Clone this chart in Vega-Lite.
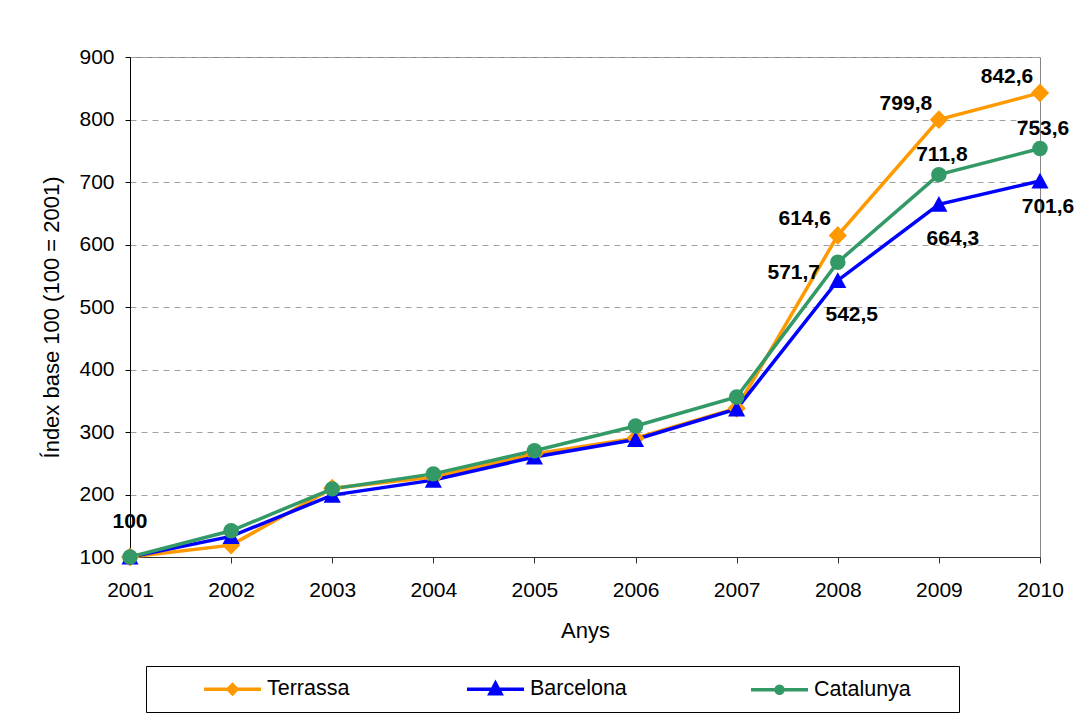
{
  "$schema": "https://vega.github.io/schema/vega-lite/v6.json",
  "width": 910,
  "height": 500,
  "autosize": "none",
  "padding": {"left": 130, "top": 57, "right": 35, "bottom": 161},
  "background": "white",
  "config": {
    "font": "Liberation Sans",
    "view": {"stroke": "#868686", "strokeWidth": 1},
    "legend": {"labelLimit": 400}
  },
  "data": {
    "values": [
      {"any": "2001", "serie": "Terrassa", "valor": 100, "etiqueta": ""},
      {"any": "2002", "serie": "Terrassa", "valor": 119, "etiqueta": ""},
      {"any": "2003", "serie": "Terrassa", "valor": 210, "etiqueta": ""},
      {"any": "2004", "serie": "Terrassa", "valor": 228, "etiqueta": ""},
      {"any": "2005", "serie": "Terrassa", "valor": 265, "etiqueta": ""},
      {"any": "2006", "serie": "Terrassa", "valor": 290, "etiqueta": ""},
      {"any": "2007", "serie": "Terrassa", "valor": 338, "etiqueta": ""},
      {"any": "2008", "serie": "Terrassa", "valor": 614.6, "etiqueta": "614,6"},
      {"any": "2009", "serie": "Terrassa", "valor": 799.8, "etiqueta": "799,8"},
      {"any": "2010", "serie": "Terrassa", "valor": 842.6, "etiqueta": "842,6"},
      {"any": "2001", "serie": "Barcelona", "valor": 100, "etiqueta": ""},
      {"any": "2002", "serie": "Barcelona", "valor": 133, "etiqueta": ""},
      {"any": "2003", "serie": "Barcelona", "valor": 199, "etiqueta": ""},
      {"any": "2004", "serie": "Barcelona", "valor": 223, "etiqueta": ""},
      {"any": "2005", "serie": "Barcelona", "valor": 260, "etiqueta": ""},
      {"any": "2006", "serie": "Barcelona", "valor": 288, "etiqueta": ""},
      {"any": "2007", "serie": "Barcelona", "valor": 337, "etiqueta": ""},
      {"any": "2008", "serie": "Barcelona", "valor": 542.5, "etiqueta": "542,5"},
      {"any": "2009", "serie": "Barcelona", "valor": 664.3, "etiqueta": "664,3"},
      {"any": "2010", "serie": "Barcelona", "valor": 701.6, "etiqueta": "701,6"},
      {"any": "2001", "serie": "Catalunya", "valor": 100, "etiqueta": "100"},
      {"any": "2002", "serie": "Catalunya", "valor": 142, "etiqueta": ""},
      {"any": "2003", "serie": "Catalunya", "valor": 209, "etiqueta": ""},
      {"any": "2004", "serie": "Catalunya", "valor": 233, "etiqueta": ""},
      {"any": "2005", "serie": "Catalunya", "valor": 270, "etiqueta": ""},
      {"any": "2006", "serie": "Catalunya", "valor": 309.6, "etiqueta": ""},
      {"any": "2007", "serie": "Catalunya", "valor": 356, "etiqueta": ""},
      {"any": "2008", "serie": "Catalunya", "valor": 571.7, "etiqueta": "571,7"},
      {"any": "2009", "serie": "Catalunya", "valor": 711.8, "etiqueta": "711,8"},
      {"any": "2010", "serie": "Catalunya", "valor": 753.6, "etiqueta": "753,6"}
    ]
  },
  "encoding": {
    "x": {
      "field": "any",
      "type": "ordinal",
      "sort": null,
      "scale": {"type": "point", "padding": 0},
      "title": "Anys",
      "axis": {
        "labelAngle": 0,
        "tickSize": 6,
        "tickColor": "#333333",
        "domainColor": "#333333",
        "labelFontSize": 21,
        "labelColor": "black",
        "labelPadding": 16,
        "titleFontSize": 22,
        "titleFontWeight": "normal",
        "titleColor": "black",
        "titlePadding": 20,
        "grid": false
      }
    },
    "y": {
      "field": "valor",
      "type": "quantitative",
      "scale": {"domain": [100, 900], "nice": false, "zero": false},
      "title": "Índex base 100 (100 = 2001)",
      "axis": {
        "values": [100, 200, 300, 400, 500, 600, 700, 800, 900],
        "tickSize": 5,
        "tickColor": "black",
        "domainColor": "black",
        "labelFontSize": 21,
        "labelColor": "black",
        "labelPadding": 11,
        "grid": true,
        "gridDash": [6, 5],
        "gridColor": "#a0a0a0",
        "titleFontSize": 22,
        "titleFontWeight": "normal",
        "titleColor": "black",
        "titleX": -67,
        "titleY": 260
      }
    }
  },
  "layer": [
    {
      "mark": {"type": "line", "strokeWidth": 3.5},
      "encoding": {
        "color": {
          "field": "serie",
          "type": "nominal",
          "sort": null,
          "scale": {"domain": ["Terrassa", "Barcelona", "Catalunya"], "range": ["#FF9900", "#0000FF", "#339966"]},
          "legend": {
            "orient": "none",
            "legendX": 16,
            "legendY": 609,
            "direction": "horizontal",
            "columns": 3,
            "gridAlign": "each",
            "columnPadding": 70,
            "padding": 11,
            "title": null,
            "strokeColor": "black",
            "fillColor": "white",
            "labelFont": "Liberation Sans",
            "labelFontSize": 21.5,
            "labelColor": "black",
            "labelOffset": 86,
            "symbolSize": 400,
            "symbolStrokeWidth": 3.5,
            "encode": {
              "symbols": {
                "update": {
                  "shape": {"signal": "datum.value == 'Terrassa' ? 'M-1.2,0M3.5,0L9.2,0M5.9,0L6.35,-0.45L6.8,0L6.35,0.45Z' : datum.value == 'Barcelona' ? 'M0.2,0M3.5,0L9.2,0M6.35,-0.6L6.9,0.45L5.8,0.45Z' : 'M-1.2,0M3.5,0L9.2,0M6.7,0A0.35,0.35,0,1,1,6.0,0A0.35,0.35,0,1,1,6.7,0ZM22.5,0'"},
                  "fill": {"scale": "color", "field": "value"},
                  "stroke": {"scale": "color", "field": "value"},
                  "strokeWidth": {"value": 3.5},
                  "opacity": {"value": 1}
                }
              }
            }
          }
        }
      }
    },
    {
      "transform": [{"filter": "datum.serie == 'Terrassa'"}],
      "mark": {"type": "point", "filled": true, "opacity": 1, "size": 250, "color": "#FF9900", "shape": "M-1.15,0L0,-1.2L1.15,0L0,1.2Z"}
    },
    {
      "transform": [{"filter": "datum.serie == 'Barcelona'"}],
      "mark": {"type": "point", "filled": true, "opacity": 1, "size": 250, "color": "#0000FF", "shape": "M0,-1.05L1.08,0.95L-1.08,0.95Z"}
    },
    {
      "transform": [{"filter": "datum.serie == 'Catalunya'"}],
      "mark": {"type": "point", "filled": true, "opacity": 1, "size": 240, "color": "#339966", "shape": "circle"}
    },
    {
      "transform": [{"filter": "datum.serie == 'Terrassa' && datum.etiqueta != ''"}],
      "mark": {"type": "text", "font": "Liberation Sans", "fontSize": 21, "fontWeight": "bold", "color": "black", "dx": -33, "dy": -16},
      "encoding": {"text": {"field": "etiqueta"}}
    },
    {
      "transform": [{"filter": "datum.serie == 'Catalunya' && datum.any == '2008'"}],
      "mark": {"type": "text", "font": "Liberation Sans", "fontSize": 21, "fontWeight": "bold", "color": "black", "dx": -44, "dy": 11},
      "encoding": {"text": {"field": "etiqueta"}}
    },
    {
      "transform": [{"filter": "datum.serie == 'Catalunya' && (datum.any == '2009' || datum.any == '2010')"}],
      "mark": {"type": "text", "font": "Liberation Sans", "fontSize": 21, "fontWeight": "bold", "color": "black", "dx": 3, "dy": -20},
      "encoding": {"text": {"field": "etiqueta"}}
    },
    {
      "transform": [{"filter": "datum.serie == 'Catalunya' && datum.any == '2001'"}],
      "mark": {"type": "text", "font": "Liberation Sans", "fontSize": 21, "fontWeight": "bold", "color": "black", "dx": 0, "dy": -35},
      "encoding": {"text": {"field": "etiqueta"}}
    },
    {
      "transform": [{"filter": "datum.serie == 'Barcelona' && (datum.any == '2008' || datum.any == '2009')"}],
      "mark": {"type": "text", "font": "Liberation Sans", "fontSize": 21, "fontWeight": "bold", "color": "black", "dx": 14, "dy": 35},
      "encoding": {"text": {"field": "etiqueta"}}
    },
    {
      "transform": [{"filter": "datum.serie == 'Barcelona' && datum.any == '2010'"}],
      "mark": {"type": "text", "font": "Liberation Sans", "fontSize": 21, "fontWeight": "bold", "color": "black", "dx": 8, "dy": 26},
      "encoding": {"text": {"field": "etiqueta"}}
    }
  ]
}
